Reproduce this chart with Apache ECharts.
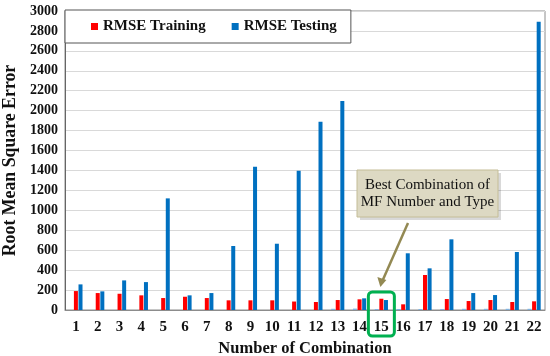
<!DOCTYPE html>
<html>
<head>
<meta charset="utf-8">
<script src="https://cdn.jsdelivr.net/npm/echarts@6/dist/echarts.min.js"></script>
<style>html,body{margin:0;padding:0;background:#fff}#c{width:550px;height:356px}</style>
</head>
<body>
<div id="c"></div>
<script>
var categories = ['1','2','3','4','5','6','7','8','9','10','11','12','13','14','15','16','17','18','19','20','21','22'];
var otherSeries = [null,null,null,null,null,null,null,null,null,null,null,null,12,14,10,10,10,10,12,12,12,12];
var trainingRmse = [190,170,163,147,120,133,120,97,97,97,85,80,100,107,113,57,351,110,90,100,80,87];
var testingRmse = [257,187,297,280,1120,147,170,642,1437,665,1397,1889,2096,117,100,569,418,709,170,150,582,2892];
var yTicks = {min: 0, max: 3000, step: 200};

var serif = 'Liberation Serif, Times New Roman, serif';
var chart = echarts.init(document.getElementById('c'), null, {renderer: 'canvas'});
var option = {
  animation: false,
  grid: {left: 65, right: 5, top: 11, bottom: 46, show: true, borderColor: '#8c8c8c', borderWidth: 1,
         containLabel: false, outerBoundsMode: 'none'},
  legend: {
    data: ['RMSE Training', 'RMSE Testing'],
    left: 65, top: 10, width: 287, height: 33,
    padding: [9, 14, 9, 26],
    itemGap: 26,
    backgroundColor: '#fff', borderColor: '#555', borderWidth: 1,
    icon: 'rect', itemWidth: 7, itemHeight: 7,
    textStyle: {fontFamily: serif, fontWeight: 'bold', fontSize: 15, color: '#111'}
  },
  xAxis: {
    type: 'category', data: categories,
    name: 'Number of Combination', nameLocation: 'middle', nameGap: 29,
    nameTextStyle: {fontFamily: serif, fontWeight: 'bold', fontSize: 16.5, color: '#111'},
    axisLine: {show: true, lineStyle: {color: '#8c8c8c'}},
    axisTick: {show: false},
    axisLabel: {fontFamily: serif, fontWeight: 'bold', fontSize: 15, color: '#111', margin: 10, interval: 0}
  },
  yAxis: {
    type: 'value', min: yTicks.min, max: yTicks.max, interval: yTicks.step,
    name: 'Root Mean Square Error', nameLocation: 'middle', nameGap: 45,
    nameTextStyle: {fontFamily: serif, fontWeight: 'bold', fontSize: 17.8, color: '#111'},
    axisLine: {show: true, lineStyle: {color: '#666'}},
    axisTick: {show: false},
    axisLabel: {fontFamily: serif, fontWeight: 'bold', fontSize: 14, color: '#111', margin: 7,
                formatter: function (v) { return String(v); }},
    splitLine: {lineStyle: {color: '#d9d9d9', width: 1}}
  },
  series: [
    {name: 'Other', type: 'bar', data: otherSeries, barWidth: 4, barGap: '15%', itemStyle: {color: '#7fb2e0'}},
    {name: 'RMSE Training', type: 'bar', data: trainingRmse, barWidth: 4, barGap: '15%', itemStyle: {color: '#ff0000'}},
    {name: 'RMSE Testing', type: 'bar', data: testingRmse, barWidth: 4, barGap: '15%', itemStyle: {color: '#0070c0'}}
  ]
};
chart.setOption(option);

// annotation positioned from the axes
var c15 = chart.convertToPixel({xAxisIndex: 0}, '15');
var yBase = chart.convertToPixel({yAxisIndex: 0}, 0);
var boxX = 357, boxY = 170, boxW = 141, boxH = 47;
chart.setOption({
  graphic: [
    {type: 'rect', shape: {x: boxX + 3, y: boxY + 3, width: boxW, height: boxH}, style: {fill: 'rgba(0,0,0,0.15)'}, z: 10},
    {type: 'rect', shape: {x: boxX, y: boxY, width: boxW, height: boxH}, style: {fill: '#ddd9c3', stroke: '#c4bd97', lineWidth: 1}, z: 11},
    {type: 'text', x: boxX + boxW / 2, y: boxY + 15, style: {text: 'Best Combination of', fontFamily: serif, fontSize: 15, fill: '#111', align: 'center', verticalAlign: 'middle'}, z: 12},
    {type: 'text', x: boxX + boxW / 2, y: boxY + 32, style: {text: 'MF Number and Type', fontFamily: serif, fontSize: 15, fill: '#111', align: 'center', verticalAlign: 'middle'}, z: 12},
    {type: 'line', shape: {x1: 408, y1: 223, x2: c15 + 1, y2: yBase - 29}, style: {stroke: '#938953', lineWidth: 2.5}, z: 12},
    {type: 'polygon', shape: {points: [[c15 - 1, yBase - 23], [c15 - 4, yBase - 33], [c15 + 5, yBase - 30]]}, style: {fill: '#938953'}, z: 12},
    {type: 'rect', shape: {x: c15 - 13, y: yBase - 18, width: 26, height: 44, r: 4}, style: {fill: 'none', stroke: '#00b050', lineWidth: 3}, z: 12}
  ]
});
</script>
</body>
</html>
